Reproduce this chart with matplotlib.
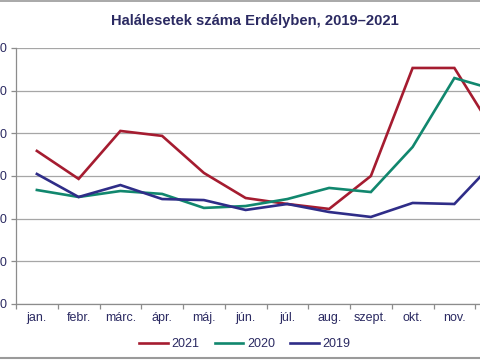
import matplotlib
matplotlib.use('Agg')
import matplotlib.pyplot as plt
from matplotlib.lines import Line2D

plt.rcParams['font.family'] = ['Liberation Sans', 'DejaVu Sans']

# adatok
honapok = ['jan.', 'febr.', 'márc.', 'ápr.', 'máj.', 'jún.', 'júl.', 'aug.',
           'szept.', 'okt.', 'nov.', 'dec.']
ev_2021 = [8970, 7330, 10140, 9850, 7680, 6210, 5860, 5570, 7500, 13830, 13830, 9900]
ev_2020 = [6680, 6270, 6620, 6450, 5630, 5740, 6150, 6800, 6560, 9200, 13240, 12540]
ev_2019 = [7620, 6270, 6970, 6150, 6090, 5510, 5860, 5390, 5100, 5920, 5860, 8440]
y_ticks = [0, 2500, 5000, 7500, 10000, 12500, 15000]

szin_2021 = '#a51c30'
szin_2020 = '#11876e'
szin_2019 = '#2f2d88'
szoveg = '#2b2a62'
racs = '#a6a6a6'

fig = plt.figure(figsize=(4.8, 3.6), dpi=100)
# a diagram szélei kilógnak a képből (kivágott ábra)
ax = fig.add_axes([16 / 480, 1 - 304 / 360, 501 / 480, 256 / 360])

x = list(range(len(honapok)))
ax.plot(x, ev_2021, color=szin_2021, lw=1.9, label='2021', solid_joinstyle='miter')
ax.plot(x, ev_2020, color=szin_2020, lw=1.9, label='2020', solid_joinstyle='miter')
ax.plot(x, ev_2019, color=szin_2019, lw=1.9, label='2019', solid_joinstyle='miter')

ax.set_xlim(-0.5, len(honapok) - 0.5)
ax.set_ylim(0, 15000)
ax.set_yticks(y_ticks)
ax.set_yticklabels([str(v) for v in y_ticks])
ax.set_xticks(x)
ax.set_xticklabels(honapok)
ax.set_xticks([i - 0.5 for i in range(len(honapok) + 1)], minor=True)

ax.grid(axis='y', color=racs, lw=0.9)
ax.set_axisbelow(True)
for s in ['top', 'right']:
    ax.spines[s].set_visible(False)
for s in ['left', 'bottom']:
    ax.spines[s].set_color('#8c8c8c')
    ax.spines[s].set_linewidth(0.9)

ax.tick_params(axis='x', which='major', length=0, pad=6, labelsize=9, labelcolor=szoveg)
ax.tick_params(axis='x', which='minor', length=3.5, color='#8c8c8c', width=0.9)
ax.tick_params(axis='y', length=3.5, color='#8c8c8c', width=0.9, pad=3,
               labelsize=9, labelcolor=szoveg)

fig.text(255 / 480, 1 - 21 / 360, 'Halálesetek száma Erdélyben, 2019–2021',
         ha='center', va='center', fontsize=10.6, fontweight='bold', color=szoveg)

fig.legend(loc='center', bbox_to_anchor=(245 / 480, 1 - 344 / 360), ncol=3,
           frameon=False, fontsize=9, handlelength=2.3, handletextpad=0.3,
           columnspacing=1.2, labelcolor=szoveg)

# keret vonalai
fig.add_artist(Line2D([0, 1], [1 - 1 / 360, 1 - 1 / 360], color='#9a9a9a', lw=1.2))
fig.add_artist(Line2D([0, 1], [1 - 358 / 360, 1 - 358 / 360], color='#9a9a9a', lw=1.5))

fig.savefig('out.png', dpi=100)
